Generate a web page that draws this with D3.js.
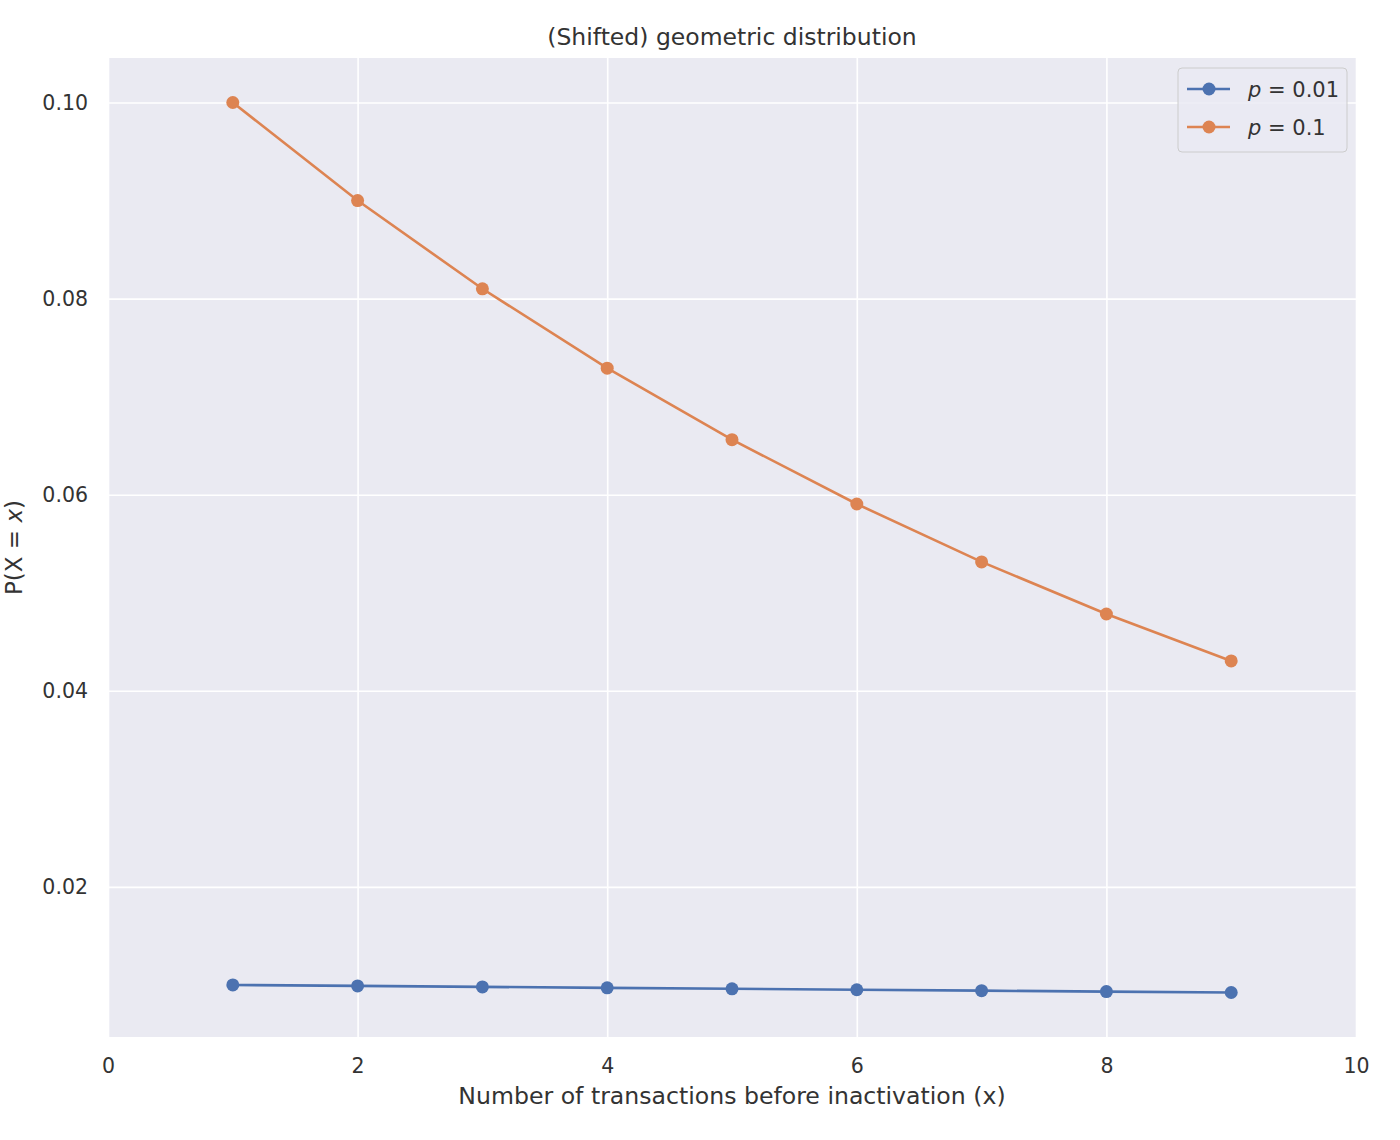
<!DOCTYPE html>
<html>
<head>
<meta charset="utf-8">
<script src="https://cdn.jsdelivr.net/npm/d3@7"></script>
<style>
    body { margin: 0; background: #fff; }
    svg { font-family: "DejaVu Sans", sans-serif; }
</style>
</head>
<body>
<svg id="chart"></svg>
<script>
// number of transactions before inactivation
const trials = [1, 2, 3, 4, 5, 6, 7, 8, 9];
// P(X = x) for p = 0.01
const probLow = [0.01, 0.0099, 0.009801, 0.00970299, 0.00960596, 0.0095099, 0.0094148, 0.00932065, 0.00922745];
// P(X = x) for p = 0.1
const probHigh = [0.1, 0.09, 0.081, 0.0729, 0.06561, 0.059049, 0.0531441, 0.0478297, 0.0430467];
const seriesLabels = ['0.01', '0.1'];
const xTicks = [0, 2, 4, 6, 8, 10];
const yTicks = [0.02, 0.04, 0.06, 0.08, 0.10];

const config = {
    width: 1400,
    height: 1140,
    margin: {top: 58, right: 44, bottom: 103, left: 108}
};
const colors = ['#4c72b0', '#dd8452'];

const svg = d3.select('#chart')
    .attr('width', config.width)
    .attr('height', config.height);

const innerW = config.width - config.margin.left - config.margin.right;
const innerH = config.height - config.margin.top - config.margin.bottom;

const chart = svg.append('g')
    .attr('transform', `translate(${config.margin.left},${config.margin.top})`);

// matplotlib-style 5% margins on y
const allY = probLow.concat(probHigh);
const yMin = d3.min(allY), yMax = d3.max(allY);
const pad = (yMax - yMin) * 0.05;

const xScale = d3.scaleLinear().domain([0, 10]).range([0, innerW]);
const yScale = d3.scaleLinear().domain([yMin - pad, yMax + pad]).range([innerH, 0]);

chart.append('rect')
    .attr('width', innerW)
    .attr('height', innerH)
    .attr('fill', '#eaeaf2');

// grid lines
chart.append('g')
    .call(d3.axisBottom(xScale).tickValues(xTicks).tickSize(innerH).tickFormat(''))
    .call(g => g.select('.domain').remove())
    .call(g => g.selectAll('line').attr('stroke', '#fff').attr('stroke-width', 1.6));

chart.append('g')
    .call(d3.axisLeft(yScale).tickValues(yTicks).tickSize(-innerW).tickFormat(''))
    .call(g => g.select('.domain').remove())
    .call(g => g.selectAll('line').attr('stroke', '#fff').attr('stroke-width', 1.6));

// tick labels
chart.append('g')
    .attr('transform', `translate(0,${innerH})`)
    .call(d3.axisBottom(xScale).tickValues(xTicks).tickSize(0).tickPadding(21).tickFormat(d3.format('d')))
    .call(g => g.select('.domain').remove())
    .call(g => g.selectAll('text').attr('font-size', 20.5).attr('fill', '#333333')
        .attr('font-family', '"DejaVu Sans", sans-serif'));

chart.append('g')
    .call(d3.axisLeft(yScale).tickValues(yTicks).tickSize(0).tickPadding(20).tickFormat(d3.format('.2f')))
    .call(g => g.select('.domain').remove())
    .call(g => g.selectAll('text').attr('font-size', 20.5).attr('fill', '#333333')
        .attr('font-family', '"DejaVu Sans", sans-serif'));

// series
const series = [probLow, probHigh];
const line = d3.line()
    .x((d, i) => xScale(trials[i]))
    .y(d => yScale(d));

series.forEach((vals, s) => {
    chart.append('path')
        .datum(vals)
        .attr('fill', 'none')
        .attr('stroke', colors[s])
        .attr('stroke-width', 2.6)
        .attr('d', line);

    chart.selectAll('.dot-' + s)
        .data(vals)
        .enter()
        .append('circle')
        .attr('class', 'dot-' + s)
        .attr('cx', (d, i) => xScale(trials[i]))
        .attr('cy', d => yScale(d))
        .attr('r', 6.5)
        .attr('fill', colors[s]);
});

// title and axis labels
svg.append('text')
    .attr('x', config.margin.left + innerW / 2)
    .attr('y', 45)
    .attr('text-anchor', 'middle')
    .attr('font-size', 23.5)
    .attr('fill', '#333333')
    .text('(Shifted) geometric distribution');

svg.append('text')
    .attr('x', config.margin.left + innerW / 2)
    .attr('y', 1104)
    .attr('text-anchor', 'middle')
    .attr('font-size', 23.6)
    .attr('fill', '#333333')
    .text('Number of transactions before inactivation (x)');

const yLabel = svg.append('text')
    .attr('transform', `translate(22,${config.margin.top + innerH / 2}) rotate(-90)`)
    .attr('text-anchor', 'middle')
    .attr('font-size', 23)
    .attr('fill', '#333333');
yLabel.append('tspan').text('P(X = ');
yLabel.append('tspan').attr('font-style', 'italic').text('x');
yLabel.append('tspan').text(')');

// legend
const legend = chart.append('g')
    .attr('transform', `translate(${innerW - 178},10)`);

legend.append('rect')
    .attr('width', 169)
    .attr('height', 84)
    .attr('rx', 4)
    .attr('fill', '#eaeaf2')
    .attr('fill-opacity', 0.8)
    .attr('stroke', '#cccccc')
    .attr('stroke-width', 1);

seriesLabels.forEach((lab, s) => {
    const row = legend.append('g')
        .attr('transform', `translate(0,${21 + s * 38})`);
    row.append('line')
        .attr('x1', 9).attr('x2', 52)
        .attr('stroke', colors[s])
        .attr('stroke-width', 2.6);
    row.append('circle')
        .attr('cx', 31)
        .attr('r', 6.5)
        .attr('fill', colors[s]);
    const t = row.append('text')
        .attr('x', 70)
        .attr('y', 8)
        .attr('font-size', 21)
        .attr('fill', '#333333');
    t.append('tspan').attr('font-style', 'italic').text('p');
    t.append('tspan').text(' = ' + lab);
});
</script>
</body>
</html>
